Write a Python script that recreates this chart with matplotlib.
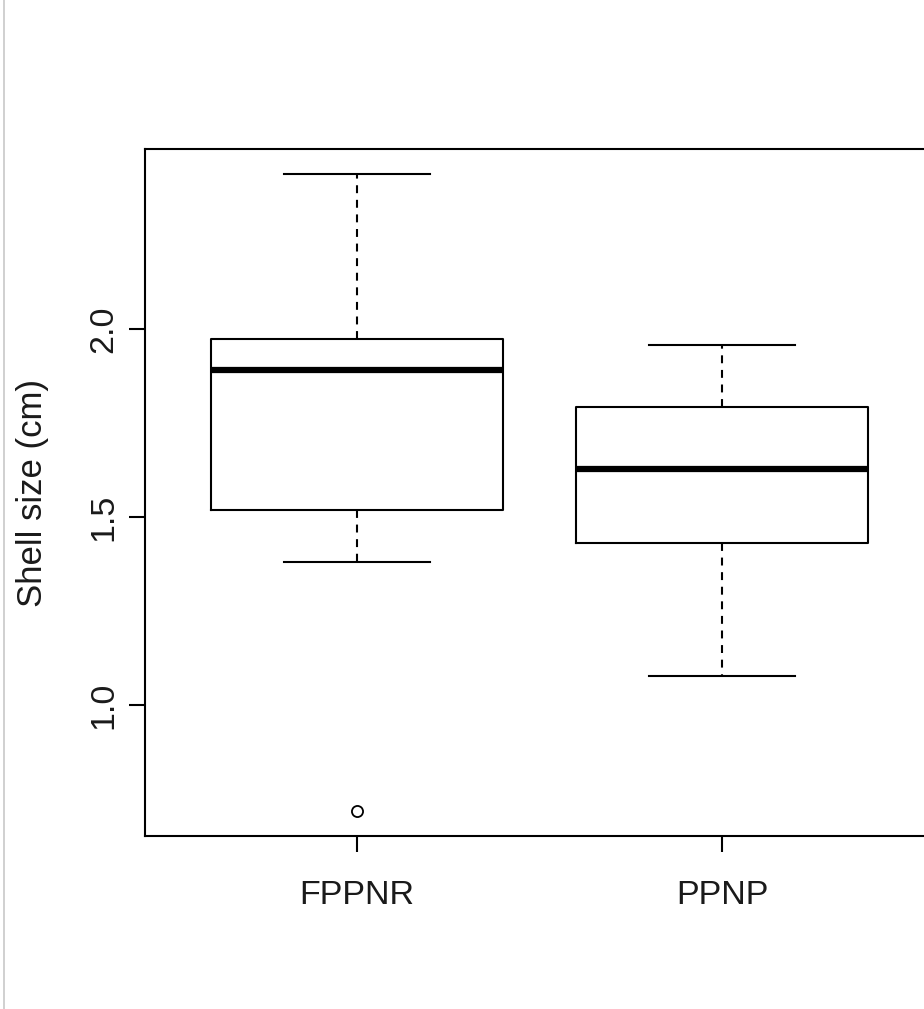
import matplotlib
matplotlib.use("Agg")
import matplotlib.pyplot as plt
from matplotlib.lines import Line2D

plt.rcParams['font.family'] = ['Liberation Sans', 'DejaVu Sans']

# Data
groups = ['FPPNR', 'PPNP']
q1 = [1.518, 1.431]
medians = [1.89, 1.628]
q3 = [1.974, 1.791]
whisker_low = [1.379, 1.078]
whisker_high = [2.411, 1.958]
outliers = [[0.719], []]
y_ticks = [1.0, 1.5, 2.0]
y_tick_labels = ['1.0', '1.5', '2.0']

stats = []
for i, name in enumerate(groups):
    stats.append(dict(label=name, med=medians[i], q1=q1[i], q3=q3[i],
                      whislo=whisker_low[i], whishi=whisker_high[i],
                      fliers=outliers[i]))

W, H = 924, 1009
fig = plt.figure(figsize=(W / 100, H / 100), dpi=100)
left, right, top, bottom = 145, 934, 149, 836
ax = fig.add_axes([left / W, 1 - bottom / H, (right - left) / W, (bottom - top) / H])

lw = 1.5
ax.bxp(stats, positions=[1, 2], widths=0.8, capwidths=0.4, showfliers=True,
       boxprops=dict(color='black', linewidth=lw),
       whiskerprops=dict(color='black', linewidth=lw, linestyle=(0, (3.8, 3.2))),
       capprops=dict(color='black', linewidth=lw),
       medianprops=dict(color='black', linewidth=4.5, solid_capstyle='butt'),
       flierprops=dict(marker='o', markerfacecolor='none', markeredgecolor='black',
                       markersize=8, markeredgewidth=1.3))

ax.set_xlim(0.42, 2.58)
ax.set_ylim(0.652, 2.478)
ax.set_yticks(y_ticks)
ax.set_yticklabels(y_tick_labels, rotation=90, va='center')
ax.set_xticks([1, 2])
ax.set_xticklabels(groups)

for s in ax.spines.values():
    s.set_linewidth(lw)
    s.set_color('black')

ax.tick_params(axis='both', length=11.5, width=lw, color='black',
               labelsize=24.5, labelcolor='#1a1a1a')
ax.tick_params(axis='x', pad=20)
ax.tick_params(axis='y', pad=7)

fig.text(33 / W, 1 - 493 / H, 'Shell size (cm)', rotation=90, ha='center',
         va='center', fontsize=25, color='#1a1a1a')

# thin grey frame line at the left edge
fig.add_artist(Line2D([3.5 / W, 3.5 / W], [0, 1], transform=fig.transFigure,
                      color='#c8c8c8', linewidth=1.2))

fig.savefig('out.png', dpi=100)
